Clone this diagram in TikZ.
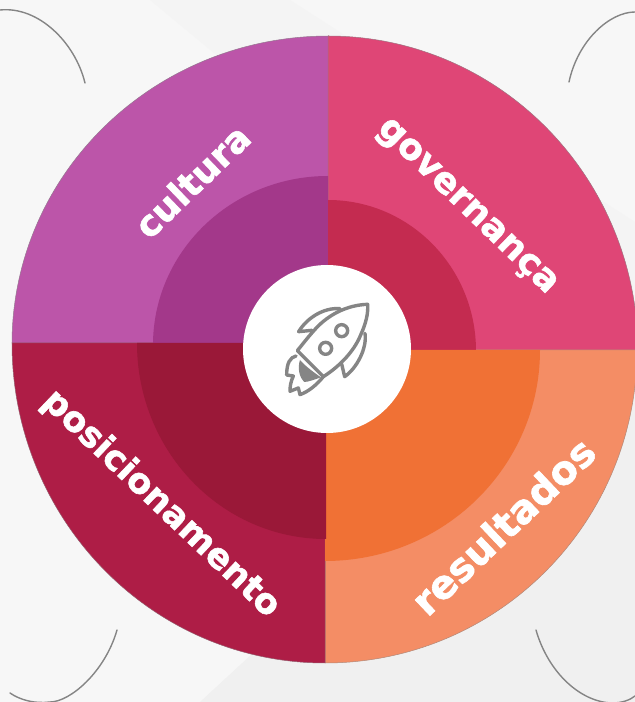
\documentclass[tikz,border=0pt]{standalone}
\usepackage{fontspec}
\setmainfont{DejaVu Sans}[BoldFeatures={FakeBold=1.6}]
\definecolor{bgA}{HTML}{F7F7F7}
\definecolor{bgB}{HTML}{F4F4F4}
\definecolor{bgC}{HTML}{F0F0F0}
\definecolor{culturaO}{HTML}{BC55A9}
\definecolor{culturaI}{HTML}{A3388A}
\definecolor{govO}{HTML}{DF4676}
\definecolor{govI}{HTML}{C42B50}
\definecolor{resO}{HTML}{F48D65}
\definecolor{resI}{HTML}{F07135}
\definecolor{posO}{HTML}{AE1D46}
\definecolor{posI}{HTML}{9A1838}
\definecolor{icon}{HTML}{858585}
\tikzset{
  x=1pt,y=1pt,
  quarter/.style={line width=0.5pt},
  slabel/.style={text=white,font=\bfseries\fontsize{36}{40}\selectfont,inner sep=0pt},
  corner/.style={draw=icon,line width=1.4pt,line cap=round},
  rocketline/.style={draw=icon,line width=3.4pt,line join=round,line cap=round}
}
\begin{document}
\begin{tikzpicture}
\useasboundingbox (0,0) rectangle (635,702);
\clip (0,0) rectangle (635,702);
\fill[bgA] (0,0) rectangle (635,702);
\fill[bgB] (150,702) -- (290,702) -- (635,480) -- (635,300) -- cycle;
\fill[bgC] (635,0) -- (635,400) -- (330,120) -- (200,0) -- cycle;
% corner arcs
\draw[corner] (0,692) .. controls (38,696) and (75,660) .. (85,619);
\draw[corner] (569,620) .. controls (578,662) and (610,690) .. (635,690);
\draw[corner] (117,72) .. controls (105,30) and (70,0) .. (50,0) .. controls (35,-2) and (20,2) .. (10,9);
\draw[corner] (536,72) .. controls (548,30) and (580,0) .. (612,-1) .. controls (622,-1) and (630,2) .. (635,6);
% outer quarters
\fill[culturaO,draw=icon!70!culturaO,quarter] (329,358) -- (12,358) arc[start angle=180,end angle=90,x radius=317,y radius=308] -- cycle;
\fill[govO,draw=icon!70!govO,quarter] (328,350) -- (638,350) arc[start angle=0,end angle=90,x radius=310,y radius=316] -- cycle;
\fill[resO,draw=icon!60!resO,quarter] (325,352) -- (637,352) arc[start angle=0,end angle=-90,x radius=312,y radius=313] -- cycle;
\fill[posO,draw=icon!60!posO,quarter] (325,359) -- (12,359) arc[start angle=180,end angle=270,x radius=313,y radius=320] -- cycle;
% inner quarters
\fill[culturaI] (328,357) -- (153,357) arc[start angle=180,end angle=90,x radius=175,y radius=169] -- cycle;
\fill[govI] (328,351) -- (476,351) arc[start angle=0,end angle=90,x radius=148,y radius=151] -- cycle;
\fill[resI] (325,352) -- (540,352) arc[start angle=0,end angle=-90,x radius=215,y radius=211] -- cycle;
\fill[posI] (326,359) -- (137,359) arc[start angle=180,end angle=270,x radius=189,y radius=196] -- cycle;
% hub
\node[circle,fill=white,minimum size=168pt,inner sep=0pt] (hub) at (327,353) {};
% rocket
\begin{scope}[shift={(240,442)},x=0.3333pt,y=-0.3333pt]
  \fill[icon] (180,300) .. controls (195,318) and (225,340) .. (243,352) .. controls (225,358) and (205,366) .. (193,366) .. controls (178,352) and (172,325) .. (180,300) -- cycle;
  \draw[rocketline] (383,133) .. controls (320,135) and (265,165) .. (228,205) .. controls (205,230) and (190,250) .. (172,272) -- (250,350) .. controls (290,325) and (340,280) .. (362,225) .. controls (378,190) and (385,160) .. (383,133) -- cycle;
  \draw[rocketline] (300,146) .. controls (250,142) and (200,175) .. (176,215) -- (216,211);
  \draw[rocketline] (375,220) .. controls (382,265) and (350,325) .. (314,350) -- (305,312);
  \draw[rocketline] (168,288) .. controls (150,292) and (140,310) .. (140,345) -- (160,348) .. controls (152,365) and (150,380) .. (150,394) -- (175,384) -- (180,404) .. controls (205,395) and (230,375) .. (250,350);
  \draw[rocketline] (305,212) circle[radius=18];
  \draw[rocketline] (257,265) circle[radius=18];
\end{scope}
% labels
\node[slabel,rotate=44] (cultura) at (192,521) {cultura};
\node[slabel,rotate=-44] (gov) at (466,494) {governança};
\node[slabel,rotate=-43.5,font=\bfseries\fontsize{35}{40}\selectfont] (pos) at (161,198) {posicionamento};
\node[slabel,rotate=43.5,font=\bfseries\fontsize{39.5}{44}\selectfont] (res) at (503,176) {resultados};
\end{tikzpicture}
\end{document}
